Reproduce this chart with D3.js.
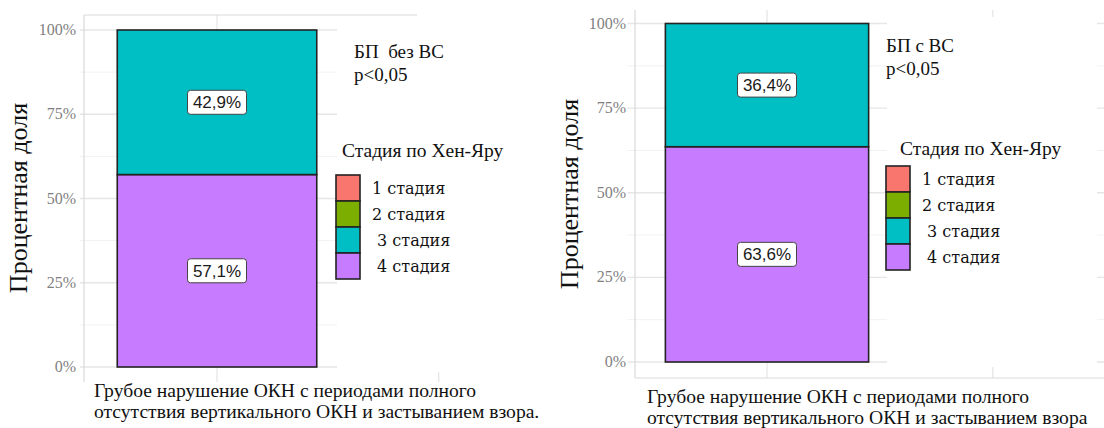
<!DOCTYPE html>
<html>
<head>
<meta charset="utf-8">
<script src="https://cdn.jsdelivr.net/npm/d3@7"></script>
<style>
  body { margin: 0; background: #fff; }
  text { white-space: pre; }
</style>
</head>
<body>
<div id="chart"></div>
<script>
// data
const stages = ["1 стадия", "2 стадия", " 3 стадия", " 4 стадия"];
const stageColors = ["#F8766D", "#7CAE00", "#00BFC4", "#C77CFF"];
const leftValues = [0, 0, 42.9, 57.1];
const rightValues = [0, 0, 36.4, 63.6];
const yTicks = [0, 0.25, 0.5, 0.75, 1];
const yTickLabels = ["0%", "25%", "50%", "75%", "100%"];
const xBreaks = [1, 2];
const yTitle = "Процентная доля";
const legendTitle = "Стадия по Хен-Яру";
const leftNote = ["БП  без ВС", "p<0,05"];
const rightNote = ["БП с ВС", "p<0,05"];
const leftXLabel = ["Грубое нарушение ОКН с периодами полного", "отсутствия вертикального ОКН и застыванием взора."];
const rightXLabel = ["Грубое нарушение ОКН с периодами полного", "отсутствия вертикального ОКН и застыванием взора"];

const W = 1104, H = 428;
const serif = "'Liberation Serif', 'Times New Roman', serif";

const svg = d3.select("#chart").append("svg").attr("width", W).attr("height", H);

class Panel {
  constructor(cfg) {
    this.cfg = cfg;
    this.x = d3.scaleLinear().domain([0.4, 1]).range([cfg.left, cfg.x1]);
    this.y = d3.scaleLinear().domain([0, 1]).range([cfg.y0, cfg.y1]);
    this.draw = this.draw.bind(this);
  }

  stack(values) {
    // ggplot stacks the first level on top, so go from last to first
    const out = [];
    let acc = 0;
    for (let i = values.length - 1; i >= 0; i--) {
      const v = values[i] / 100;
      out.push({ i, v, lo: acc, hi: acc + v, label: values[i] });
      acc += v;
    }
    return out.filter((d) => d.v > 0);
  }

  draw(g, values, note, xLabel) {
    const c = this.cfg, x = this.x, y = this.y;
    const minor = d3.pairs(yTicks).map(([a, b]) => (a + b) / 2);

    // grid
    g.selectAll("line.minor").data(minor).join("line")
      .attr("x1", c.left - 4).attr("x2", c.right)
      .attr("y1", (d) => y(d)).attr("y2", (d) => y(d))
      .attr("stroke", "#f2f2f2").attr("stroke-width", 1);
    g.selectAll("line.major").data(yTicks).join("line")
      .attr("x1", c.left - 4).attr("x2", c.right)
      .attr("y1", (d) => y(d)).attr("y2", (d) => y(d))
      .attr("stroke", "#e6e6e6").attr("stroke-width", 1.3);
    g.selectAll("line.vgrid").data(xBreaks).join("line")
      .attr("x1", (d) => x(d)).attr("x2", (d) => x(d))
      .attr("y1", c.top).attr("y2", c.bottom)
      .attr("stroke", "#e6e6e6").attr("stroke-width", 1.3);

    // white area behind the note and legend
    g.append("rect")
      .attr("x", c.mask[0]).attr("y", c.mask[1])
      .attr("width", c.mask[2] - c.mask[0]).attr("height", c.mask[3] - c.mask[1])
      .attr("fill", "#fff");

    // panel edges
    c.edges.forEach((e) => {
      g.append("line").attr("x1", e[0]).attr("y1", e[1]).attr("x2", e[2]).attr("y2", e[3])
        .attr("stroke", "#d9d9d9").attr("stroke-width", 1.2);
    });

    // y tick labels
    g.selectAll("text.tick").data(yTicks).join("text")
      .attr("x", c.tickX).attr("y", (d) => y(d) + 5)
      .attr("text-anchor", "end")
      .attr("font-family", serif).attr("font-size", 16)
      .attr("fill", "#7f7f7f")
      .text((d, i) => yTickLabels[i]);

    // y title
    g.append("text")
      .attr("transform", `translate(${c.titleX},${c.titleY}) rotate(-90)`)
      .attr("text-anchor", "middle")
      .attr("font-family", serif).attr("font-size", 26)
      .attr("fill", "#111")
      .text(yTitle);

    // bars
    const data = this.stack(values);
    g.selectAll("rect.seg").data(data).join("rect")
      .attr("x", x(0.55)).attr("width", x(1.45) - x(0.55))
      .attr("y", (d) => y(d.hi)).attr("height", (d) => y(d.lo) - y(d.hi))
      .attr("fill", (d) => stageColors[d.i])
      .attr("stroke", "#222").attr("stroke-width", 1.6);

    // value labels
    const fmt = (v) => d3.format(".1f")(v).replace(".", ",") + "%";
    const lab = g.selectAll("g.lab").data(data).join("g")
      .attr("transform", (d) => `translate(${x(1)},${y((d.lo + d.hi) / 2)})`);
    lab.append("rect")
      .attr("x", -29.5).attr("y", -12).attr("width", 59).attr("height", 24)
      .attr("rx", 3).attr("fill", "#fff").attr("stroke", "#444").attr("stroke-width", 1);
    lab.append("text")
      .attr("y", 6).attr("text-anchor", "middle")
      .attr("font-family", "'Liberation Sans', Arial, sans-serif").attr("font-size", 17)
      .attr("fill", "#1a1a1a")
      .text((d) => fmt(d.label));

    // note
    g.selectAll("text.note").data(note).join("text")
      .attr("x", c.noteX).attr("y", (d, i) => c.noteY + i * 23)
      .attr("font-family", serif).attr("font-size", 19)
      .attr("fill", "#111")
      .text((d) => d);

    // legend
    g.append("text")
      .attr("x", c.legTitleX).attr("y", c.legTitleY)
      .attr("font-family", serif).attr("font-size", 19.5)
      .attr("fill", "#111")
      .text(legendTitle);
    const leg = g.selectAll("g.leg").data(stages).join("g")
      .attr("transform", (d, i) => `translate(${c.keyX},${c.keyY + i * 26})`);
    leg.append("rect")
      .attr("width", 24).attr("height", 26)
      .attr("fill", (d, i) => stageColors[i])
      .attr("stroke", "#222").attr("stroke-width", 1.6);
    leg.append("text")
      .attr("x", 36).attr("y", 19)
      .attr("font-family", "'DejaVu Serif', serif").attr("font-size", 16)
      .attr("fill", "#111")
      .text((d) => d);

    // x label
    g.selectAll("text.xlab").data(xLabel).join("text")
      .attr("x", c.xLabX).attr("y", (d, i) => c.xLabY + i * 21)
      .attr("font-family", serif).attr("font-size", 19.6)
      .attr("fill", "#111")
      .text((d) => d);
  }
}

const leftPanel = new Panel({
  left: 84, x1: 217, y0: 367, y1: 30,
  top: 15, bottom: 382, right: 337,
  mask: [337, 10, 552, 372],
  edges: [[84, 15, 84, 382], [84, 15, 417, 15]],
  tickX: 76, titleX: 27, titleY: 198,
  noteX: 354, noteY: 58,
  legTitleX: 342, legTitleY: 157, keyX: 336, keyY: 175,
  xLabX: 94, xLabY: 397
});

const rightPanel = new Panel({
  left: 631.5, x1: 767, y0: 362, y1: 23.5,
  top: 10, bottom: 378, right: 1104,
  mask: [887, 17, 1097, 367],
  edges: [[635, 10, 635, 378], [635, 378, 1104, 378]],
  tickX: 626, titleX: 578, titleY: 194,
  noteX: 886, noteY: 52,
  legTitleX: 900, legTitleY: 155, keyX: 886, keyY: 166,
  xLabX: 647, xLabY: 403
});

leftPanel.draw(svg.append("g"), leftValues, leftNote, leftXLabel);
rightPanel.draw(svg.append("g"), rightValues, rightNote, rightXLabel);
</script>
</body>
</html>
